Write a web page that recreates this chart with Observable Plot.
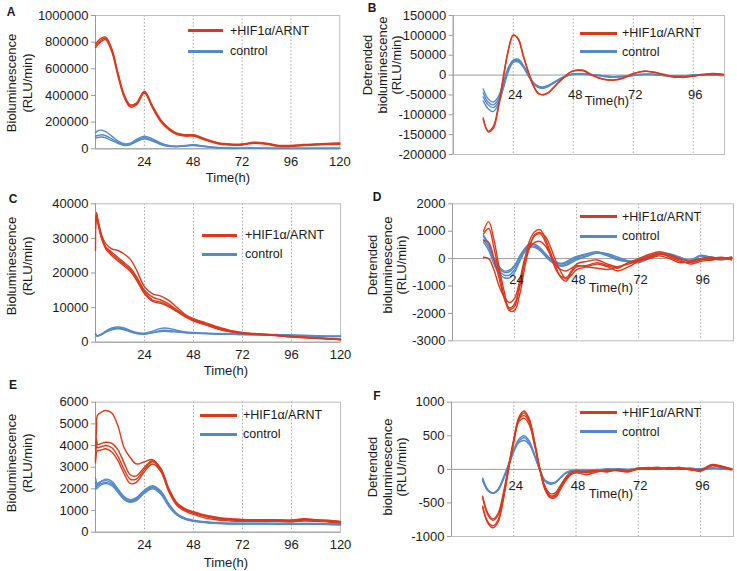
<!DOCTYPE html>
<html><head><meta charset="utf-8">
<script src="https://cdn.jsdelivr.net/npm/d3@7"></script>
<script src="https://cdn.jsdelivr.net/npm/@observablehq/plot@0.6"></script>
<style>
body{margin:0;background:#fff;}
#root{position:relative;width:737px;height:571px;overflow:hidden;font-family:"Liberation Sans",Arial,sans-serif;color:#1a1a1a;}
.pnl{position:absolute;}
.lbl{position:absolute;white-space:nowrap;line-height:1;}
</style></head><body><div id="root"></div>
<script>
const RED = "#d9391c", BLUE = "#5589c9";
const legendLabels = ["+HIF1α/ARNT", "control"];
const gridT = [24, 48, 72, 96];
const rawXTicks = [24, 48, 72, 96, 120];

// time grids (h)
const tRaw = [0,0.5,1,3,5,8,11,14,17,20,24,28,32,36,40,44,48,54,60,66,72,78,84,90,96,102,108,114,120];
const tDet = [12,14,16,18,20,22,24,26,28,30,32,34,36,38,40,42,44,46,48,52,56,60,64,68,72,76,80,84,88,92,96,100,104,108];

// Panel A
const aYTicks = [0,200000,400000,600000,800000,1000000];
const aRed1 = [775000,782000,790000,820000,828000,740000,560000,400000,322000,335000,425000,315000,212000,150000,112000,100000,100000,70000,42000,32000,32000,46000,38000,22000,22000,28000,32000,35000,38000];
const aRed2 = [790000,795000,805000,832000,838000,752000,572000,410000,330000,343000,433000,323000,219000,156000,118000,106000,105000,75000,46000,36000,36000,50000,42000,26000,26000,32000,36000,40000,43000];
const aRed3 = [760000,768000,778000,808000,818000,728000,548000,390000,314000,327000,417000,307000,205000,144000,106000,95000,95000,66000,38000,28000,28000,42000,34000,18000,18000,24000,28000,31000,34000];
const aBlue1 = [120000,128000,135000,140000,128000,95000,60000,38000,42000,70000,95000,75000,45000,25000,20000,25000,30000,20000,10000,6000,5000,6000,5000,4000,4000,4000,4000,4000,4000];
const aBlue2 = [95000,98000,100000,105000,98000,75000,48000,30000,35000,60000,85000,65000,38000,22000,18000,22000,28000,18000,8000,5000,4000,5000,4000,3000,3000,3000,3000,3000,3000];
const aBlue3 = [80000,83000,85000,88000,82000,62000,40000,25000,30000,52000,75000,58000,32000,18000,15000,20000,25000,15000,6000,3000,3000,3000,3000,2000,2000,2000,2000,2000,2000];

// Panel B
const bYTicks = [-200000,-150000,-100000,-50000,0,50000,100000,150000];
const bRed1 = [-108000,-143000,-135000,-85000,-10000,60000,100000,92000,50000,10000,-25000,-45000,-50000,-45000,-33000,-20000,-8000,3000,10000,11000,-2000,-10000,-13000,-8000,3000,10000,7000,1000,-5000,-5000,-2000,2000,4000,2000];
const bRed2 = [-112000,-141000,-130000,-80000,-5000,62000,101000,90000,48000,8000,-27000,-47000,-49000,-44000,-32000,-19000,-7000,4000,11000,12000,-1000,-11000,-12000,-7000,4000,9000,8000,2000,-4000,-6000,-3000,1000,3000,1000];
const bBlue1 = [-35000,-60000,-68000,-55000,-20000,18000,38000,40000,25000,3000,-18000,-28000,-30000,-26000,-19000,-12000,-5000,0,3000,3000,1000,-2000,-4000,-3000,0,2000,2000,0,-2000,-2000,0,1000,1000,0];
const bBlue2 = [-45000,-68000,-75000,-62000,-25000,15000,36000,38000,24000,2000,-19000,-29000,-31000,-27000,-20000,-12000,-5000,0,3000,3000,1000,-2000,-4000,-3000,0,2000,2000,0,-2000,-2000,0,1000,1000,0];
const bBlue3 = [-55000,-75000,-82000,-68000,-30000,12000,34000,36000,22000,0,-20000,-30000,-32000,-28000,-20000,-13000,-6000,-1000,2000,2000,0,-3000,-5000,-4000,-1000,1000,1000,-1000,-3000,-3000,-1000,0,0,-1000];
const bBlue4 = [-65000,-85000,-92000,-75000,-35000,8000,32000,33000,20000,-2000,-21000,-31000,-33000,-29000,-21000,-13000,-6000,-1000,2000,2000,0,-3000,-5000,-4000,-1000,1000,1000,-1000,-3000,-3000,-1000,0,0,-1000];

// Panel C
const cYTicks = [0,10000,20000,30000,40000];
const cRed1 = [34000,37500,36000,31000,28500,27000,26500,25500,24000,21000,16000,14000,13300,12000,10000,8000,6800,5600,4400,3400,2800,2500,2300,2000,1700,1500,1300,1100,900];
const cRed2 = [26500,36000,35000,30000,27500,26000,24500,23000,21500,19000,15000,13000,12200,11000,9300,7700,6500,5300,4100,3200,2700,2400,2200,1900,1600,1400,1200,1000,800];
const cRed3 = [35000,37000,35500,30500,27500,25500,24000,22500,21000,18500,14500,12200,11600,10500,9000,7500,6300,5100,3900,3100,2600,2400,2200,1900,1600,1400,1200,1000,800];
const cRed4 = [33000,36500,35000,30000,27000,25000,23500,22000,20500,18000,14000,11800,11200,10200,8800,7300,6100,5000,3800,3000,2500,2300,2100,1800,1500,1300,1100,900,700];
const cBlue1 = [2500,2000,1900,2400,3200,4100,4400,4100,3400,2800,2600,3200,4000,4000,3400,3000,2800,2600,2500,2400,2400,2300,2200,2200,2100,2000,1900,1800,1800];
const cBlue2 = [2200,1800,1700,2200,2900,3600,3900,3600,3000,2500,2300,2700,3100,3100,2900,2700,2600,2500,2400,2300,2200,2200,2100,2000,2000,1900,1800,1700,1700];
const cBlue3 = [2300,1900,1800,2300,3000,3800,4100,3800,3200,2600,2400,2800,3400,3400,3100,2800,2600,2500,2300,2300,2200,2100,2000,2000,1900,1800,1700,1600,1600];

// Panel D
const dYTicks = [-3000,-2000,-1000,0,1000,2000];
const dRed1 = [1000,1350,700,-300,-1200,-1850,-1750,-1000,0,700,1000,1050,700,200,-300,-700,-820,-500,-300,-250,-150,-250,-350,-150,-50,100,200,50,-100,-150,-50,0,50,-50];
const dRed2 = [900,1100,400,-500,-1400,-1900,-1900,-1300,-300,500,900,950,800,400,-100,-500,-750,-600,-400,-300,-200,-300,-450,-300,-100,50,150,100,-50,-200,-100,-50,0,0];
const dRed3 = [50,0,-400,-1000,-1400,-1600,-1450,-800,0,400,600,620,450,100,-250,-400,-450,-350,-250,-300,-350,-400,-300,-200,-100,0,100,0,-150,-100,0,-50,0,50];
const dRed4 = [650,600,0,-700,-1450,-1800,-1650,-1000,-100,500,850,900,600,100,-400,-650,-700,-450,-200,-100,-50,-200,-300,-150,0,150,250,150,0,-100,0,50,0,0];
const dBlue1 = [800,500,0,-350,-500,-480,-300,50,350,520,500,350,150,-50,-150,-200,-150,-50,50,150,200,100,-50,-100,-50,100,200,150,0,-100,100,50,0,50];
const dBlue2 = [700,400,-100,-450,-600,-600,-400,-50,300,450,450,320,120,-80,-200,-250,-200,-100,0,100,200,150,0,-100,-150,0,150,150,50,-100,0,50,0,0];
const dBlue3 = [600,300,-200,-550,-700,-700,-500,-100,250,420,400,280,80,-100,-220,-280,-250,-150,-50,80,220,180,50,-80,-120,20,180,120,0,-80,80,0,-50,50];
const dBlue4 = [850,550,50,-300,-450,-420,-250,100,380,550,520,380,180,0,-120,-180,-120,0,80,180,250,120,-30,-120,-80,50,200,180,50,-50,120,50,0,30];

// Panel E
const eYTicks = [0,1000,2000,3000,4000,5000,6000];
const eRed1 = [3200,4800,5400,5550,5620,5500,4900,3900,3450,3150,3250,3350,2900,1950,1300,1050,900,740,640,590,570,570,570,560,550,620,570,530,490];
const eRed2 = [3800,4300,4050,4100,4150,4100,3800,3200,2650,2600,3000,3300,2950,2000,1350,1080,950,780,680,620,590,580,580,570,560,600,580,550,500];
const eRed3 = [3400,4000,3900,3950,4000,3900,3500,2900,2450,2450,2900,3250,2850,1900,1280,1020,880,720,620,570,540,540,540,530,520,560,540,510,460];
const eRed4 = [3300,3700,3750,3800,3850,3700,3300,2700,2250,2300,2800,3150,2800,1850,1220,970,820,650,560,520,500,500,500,500,480,520,500,470,420];
const eBlue1 = [2500,2300,2200,2350,2450,2350,2000,1650,1500,1600,1950,2150,1900,1300,850,650,560,480,440,420,420,420,420,410,410,400,400,390,380];
const eBlue2 = [2100,2200,2250,2350,2380,2280,1950,1600,1450,1550,1900,2100,1850,1250,820,620,530,460,420,400,400,400,400,390,390,380,380,370,360];
const eBlue3 = [2000,2100,2150,2250,2300,2200,1880,1550,1400,1500,1850,2050,1800,1200,800,600,520,450,410,390,390,390,390,380,380,370,370,360,350];
const eBlue4 = [2300,2000,2050,2200,2250,2150,1830,1500,1380,1460,1800,2000,1750,1180,780,590,500,440,400,380,380,380,380,370,370,360,360,350,330];

// Panel F
const fYTicks = [-1000,-500,0,500,1000];
const fRed1 = [-400,-650,-740,-650,-350,50,450,780,870,750,420,20,-280,-410,-400,-280,-150,-60,-30,-40,-20,-30,-10,-20,10,0,10,20,0,10,-10,60,40,0];
const fRed2 = [-560,-800,-870,-780,-450,0,420,750,840,720,400,0,-300,-420,-420,-300,-170,-80,-40,-50,-30,-20,-10,-30,0,20,30,0,20,0,-20,70,50,0];
const fRed3 = [-420,-680,-760,-680,-380,30,430,740,800,700,380,20,-250,-360,-350,-240,-130,-70,-50,-80,-40,-10,-20,-40,20,10,20,10,30,-10,-10,50,30,-10];
const fRed4 = [-550,-780,-840,-750,-420,10,400,710,760,660,360,10,-270,-390,-380,-250,-120,-40,-30,-30,-20,-40,0,-20,10,30,10,30,10,0,-30,60,40,10];
const fBlue1 = [-130,-300,-355,-290,-120,80,300,450,500,420,220,0,-170,-220,-200,-130,-60,-30,-20,-10,-20,0,-10,0,10,20,10,0,10,20,0,20,10,10];
const fBlue2 = [-170,-320,-360,-310,-150,50,260,400,430,370,200,-10,-160,-200,-190,-120,-50,-20,-10,-20,-10,10,0,-10,20,10,0,10,20,10,-10,10,20,0];
const fBlue3 = [-150,-310,-350,-300,-140,60,280,420,470,390,210,0,-175,-215,-195,-125,-55,-25,-15,-15,0,-10,10,0,0,20,10,20,0,10,10,30,0,10];

const root = document.getElementById("root");

function addLabel(text, x, y, o = {}) {
  const d = document.createElement("div");
  d.className = "lbl";
  d.textContent = text;
  d.style.left = x + "px";
  d.style.top = y + "px";
  d.style.fontSize = (o.size || 13) + "px";
  if (o.bold) d.style.fontWeight = "bold";
  const tx = o.align === "left" ? "0" : "-50%";
  d.style.transform = `translate(${tx},-50%)` + (o.rotate ? " rotate(-90deg)" : "");
  root.appendChild(d);
}
function addLegend(x1, x2, yRed, yBlue, xText) {
  [[RED, yRed, legendLabels[0]], [BLUE, yBlue, legendLabels[1]]].forEach(([c, y, txt]) => {
    const l = document.createElement("div");
    l.style.cssText = `position:absolute;left:${x1}px;top:${y - 1.5}px;width:${x2 - x1}px;height:3px;background:${c};`;
    root.appendChild(l);
    addLabel(txt, xText, y, {align: "left", size: 12.5});
  });
}

function panel(cfg) {
  const series = [
    ...cfg.red.map((v, i) => ({id: "r" + i, c: RED, v})),
    ...cfg.blue.map((v, i) => ({id: "b" + i, c: BLUE, v}))
  ];
  const data = series.flatMap(s => s.v.map((v, i) => ({t: cfg.t[i], v, id: s.id, c: s.c})));
  const marks = [
    Plot.ruleX(gridT, {stroke: "#9c9c9c", strokeDasharray: "1.5,2", strokeWidth: 0.9}),
    Plot.frame({stroke: "#bdbdbd"}),
    Plot.ruleY([0], {stroke: "#9a9a9a"}),
    Plot.ruleX([cfg.xDomain[0]], {stroke: "#9a9a9a"}),
    Plot.axisY({ticks: cfg.yTicks, tickSize: 4, tickPadding: 3, tickFormat: d => String(d), stroke: "#9a9a9a", fill: "#1a1a1a", label: null}),
    Plot.line(data.filter(d => d.c === BLUE), {x: "t", y: "v", z: "id", stroke: BLUE, strokeWidth: 1.4, curve: "catmull-rom"}),
    Plot.line(data.filter(d => d.c === RED), {x: "t", y: "v", z: "id", stroke: RED, strokeWidth: 1.4, curve: "catmull-rom"})
  ];
  if (cfg.raw) {
    marks.push(Plot.axisX({ticks: rawXTicks, tickSize: 0, tickPadding: 8, tickFormat: d => String(d), fill: "#1a1a1a", label: null}));
  } else {
    marks.push(Plot.text(gridT, {x: d => d, y: d => 0, text: d => String(d), dy: cfg.labelDy, dx: 2, fill: "#1a1a1a", fontSize: 13}));
  }
  const svg = Plot.plot({
    width: cfg.w, height: cfg.h,
    marginLeft: cfg.mL, marginRight: cfg.mR, marginTop: cfg.mT, marginBottom: cfg.mB,
    x: {domain: cfg.xDomain, axis: cfg.raw ? undefined : null, label: null},
    y: {domain: cfg.yDomain, label: null},
    style: {fontSize: "13px", fontFamily: "Liberation Sans, Arial, sans-serif", background: "transparent", overflow: "visible"},
    marks
  });
  svg.classList.add("pnl");
  svg.style.left = cfg.left + "px";
  svg.style.top = cfg.top + "px";
  root.appendChild(svg);
}

// A
panel({left: 0, top: 0, w: 368, h: 185, mL: 95, mR: 28.7, mT: 15, mB: 36.7, xDomain: [0, 120], yDomain: [0, 1000000], yTicks: aYTicks, t: tRaw, red: [aRed1, aRed2, aRed3], blue: [aBlue1, aBlue2, aBlue3], raw: true});
// B
panel({left: 368, top: 0, w: 369, h: 185, mL: 84.7, mR: 13, mT: 15, mB: 31, xDomain: [0, 108.5], yDomain: [-200000, 150000], yTicks: bYTicks, t: tDet, red: [bRed1, bRed2], blue: [bBlue1, bBlue2, bBlue3, bBlue4], raw: false, labelDy: 19.5});
// C
panel({left: 0, top: 182, w: 368, h: 185, mL: 95, mR: 28, mT: 21.3, mB: 25.3, xDomain: [0, 120], yDomain: [0, 40000], yTicks: cYTicks, t: tRaw, red: [cRed1, cRed2, cRed3, cRed4], blue: [cBlue1, cBlue2, cBlue3], raw: true});
// D
panel({left: 368, top: 182, w: 369, h: 180, mL: 84, mR: 4, mT: 21.3, mB: 21.7, xDomain: [0, 108.7], yDomain: [-3000, 2000], yTicks: dYTicks, t: tDet, red: [dRed1, dRed2, dRed3, dRed4], blue: [dBlue1, dBlue2, dBlue3, dBlue4], raw: false, labelDy: 21});
// E
panel({left: 0, top: 372, w: 368, h: 199, mL: 95, mR: 28, mT: 29.7, mB: 39.3, xDomain: [0, 120], yDomain: [0, 6000], yTicks: eYTicks, t: tRaw, red: [eRed1, eRed2, eRed3, eRed4], blue: [eBlue1, eBlue2, eBlue3, eBlue4], raw: true});
// F
panel({left: 368, top: 372, w: 369, h: 199, mL: 83, mR: 4, mT: 29.7, mB: 35, xDomain: [0, 108.7], yDomain: [-1000, 1000], yTicks: fYTicks, t: tDet, red: [fRed1, fRed2, fRed3, fRed4], blue: [fBlue1, fBlue2, fBlue3], raw: false, labelDy: 16});

// panel letters
[["A", 11, 12], ["B", 372, 8], ["C", 13, 199], ["D", 377, 197], ["E", 13, 385], ["F", 377, 396]].forEach(([t, x, y]) => addLabel(t, x, y, {bold: true, size: 12}));

// axis titles
const t1 = "Bioluminescence", t2 = "(RLU/min)", t3 = "Detrended", t4 = "bioluminescence", tx = "Time(h)";
[[83], [266], [463]].forEach(([y]) => { addLabel(t1, 11, y, {rotate: true}); addLabel(t2, 26.5, y, {rotate: true}); });
[[367, 65], [372, 265], [372, 467]].forEach(([x, y]) => {
  addLabel(t3, x, y, {rotate: true}); addLabel(t4, x + 14.5, y, {rotate: true}); addLabel(t2, x + 29, y, {rotate: true});
});
addLabel(tx, 228, 177); addLabel(tx, 226, 370); addLabel(tx, 226, 562);
addLabel(tx, 607, 100); addLabel(tx, 611, 287); addLabel(tx, 611, 493);

// legends
addLegend(188, 223, 30.5, 51, 230);
addLegend(580, 617, 33.3, 51.7, 622);
addLegend(202, 237, 235, 254, 245);
addLegend(580, 617, 216.7, 236, 622);
addLegend(200, 237, 415, 434.3, 243);
addLegend(580, 617, 412.7, 431.7, 622);
</script></body></html>
